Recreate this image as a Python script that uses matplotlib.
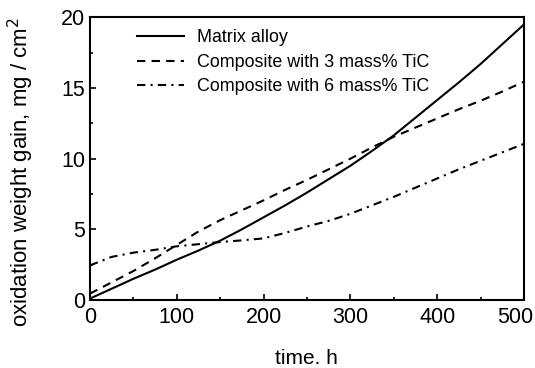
import matplotlib
matplotlib.use('Agg')
import matplotlib.pyplot as plt
from matplotlib.ticker import MultipleLocator, FuncFormatter

plt.rcParams['font.family'] = ['Liberation Sans', 'DejaVu Sans']

time_h = [0, 25, 50, 75, 100, 125, 150, 175, 200, 225, 250,
          275, 300, 325, 350, 375, 400, 425, 450, 475, 500]
matrix_alloy = [0.1, 0.8, 1.5, 2.15, 2.85, 3.5, 4.2, 5.0, 5.85, 6.7, 7.6,
                8.55, 9.5, 10.55, 11.65, 12.9, 14.15, 15.4, 16.7, 18.1, 19.5]
tic_3 = [0.45, 1.25, 2.05, 2.95, 3.9, 4.85, 5.65, 6.35, 7.05, 7.8, 8.5,
         9.25, 10.0, 10.8, 11.55, 12.2, 12.85, 13.5, 14.1, 14.75, 15.45]
tic_6 = [2.45, 3.05, 3.35, 3.55, 3.8, 3.95, 4.1, 4.22, 4.36, 4.75, 5.2,
         5.6, 6.1, 6.7, 7.3, 7.95, 8.6, 9.25, 9.85, 10.45, 11.05]

labels = ['Matrix alloy', 'Composite with 3 mass% TiC', 'Composite with 6 mass% TiC']

fig = plt.figure(figsize=(5.35, 3.68), dpi=100)
ax = fig.add_axes([0.1682, 0.1848, 0.8112, 0.768])

ax.plot(time_h, matrix_alloy, color='black', lw=1.5, ls='-', label=labels[0])
ax.plot(time_h, tic_3, color='black', lw=1.5, ls=(0, (4, 3)), label=labels[1])
ax.plot(time_h, tic_6, color='black', lw=1.5, ls=(0, (4, 2.5, 1, 2.5)), label=labels[2])

ax.set_xlim(0, 500)
ax.set_ylim(0, 20)
ax.xaxis.set_major_locator(MultipleLocator(100))
ax.xaxis.set_minor_locator(MultipleLocator(50))
ax.yaxis.set_major_locator(MultipleLocator(5))
ax.yaxis.set_minor_locator(MultipleLocator(2.5))
ax.tick_params(which='both', direction='in', top=False, right=False, width=1.2)
ax.tick_params(which='major', length=4, labelsize=15.5)
ax.tick_params(axis='y', pad=3.5)
ax.tick_params(axis='x', pad=5)
ax.tick_params(which='minor', length=2.5)
for s in ax.spines.values():
    s.set_linewidth(1.5)

# the "500" label sits a bit left of its tick in the original, so draw it by hand
ax.xaxis.set_major_formatter(FuncFormatter(lambda v, p: '' if v >= 500 else f'{v:g}'))
ax.annotate('500', xy=(500, 0), xycoords='data', xytext=(-6.5, -5),
            textcoords='offset points', ha='center', va='top', fontsize=15.5)

fig.text(306 / 535, 1 - 358 / 368, 'time. h', fontsize=15, ha='center', va='center')
fig.text(21 / 535, 1 - 172 / 368, 'oxidation weight gain, mg / cm$^2$', fontsize=16,
         rotation=90, ha='center', va='center')

ax.legend(loc='upper left', bbox_to_anchor=(0.071, 1.015), frameon=False,
          fontsize=12.9, handlelength=2.65, handletextpad=0.73, labelspacing=0.42)

plt.savefig('out.png', dpi=100)
plt.close()
